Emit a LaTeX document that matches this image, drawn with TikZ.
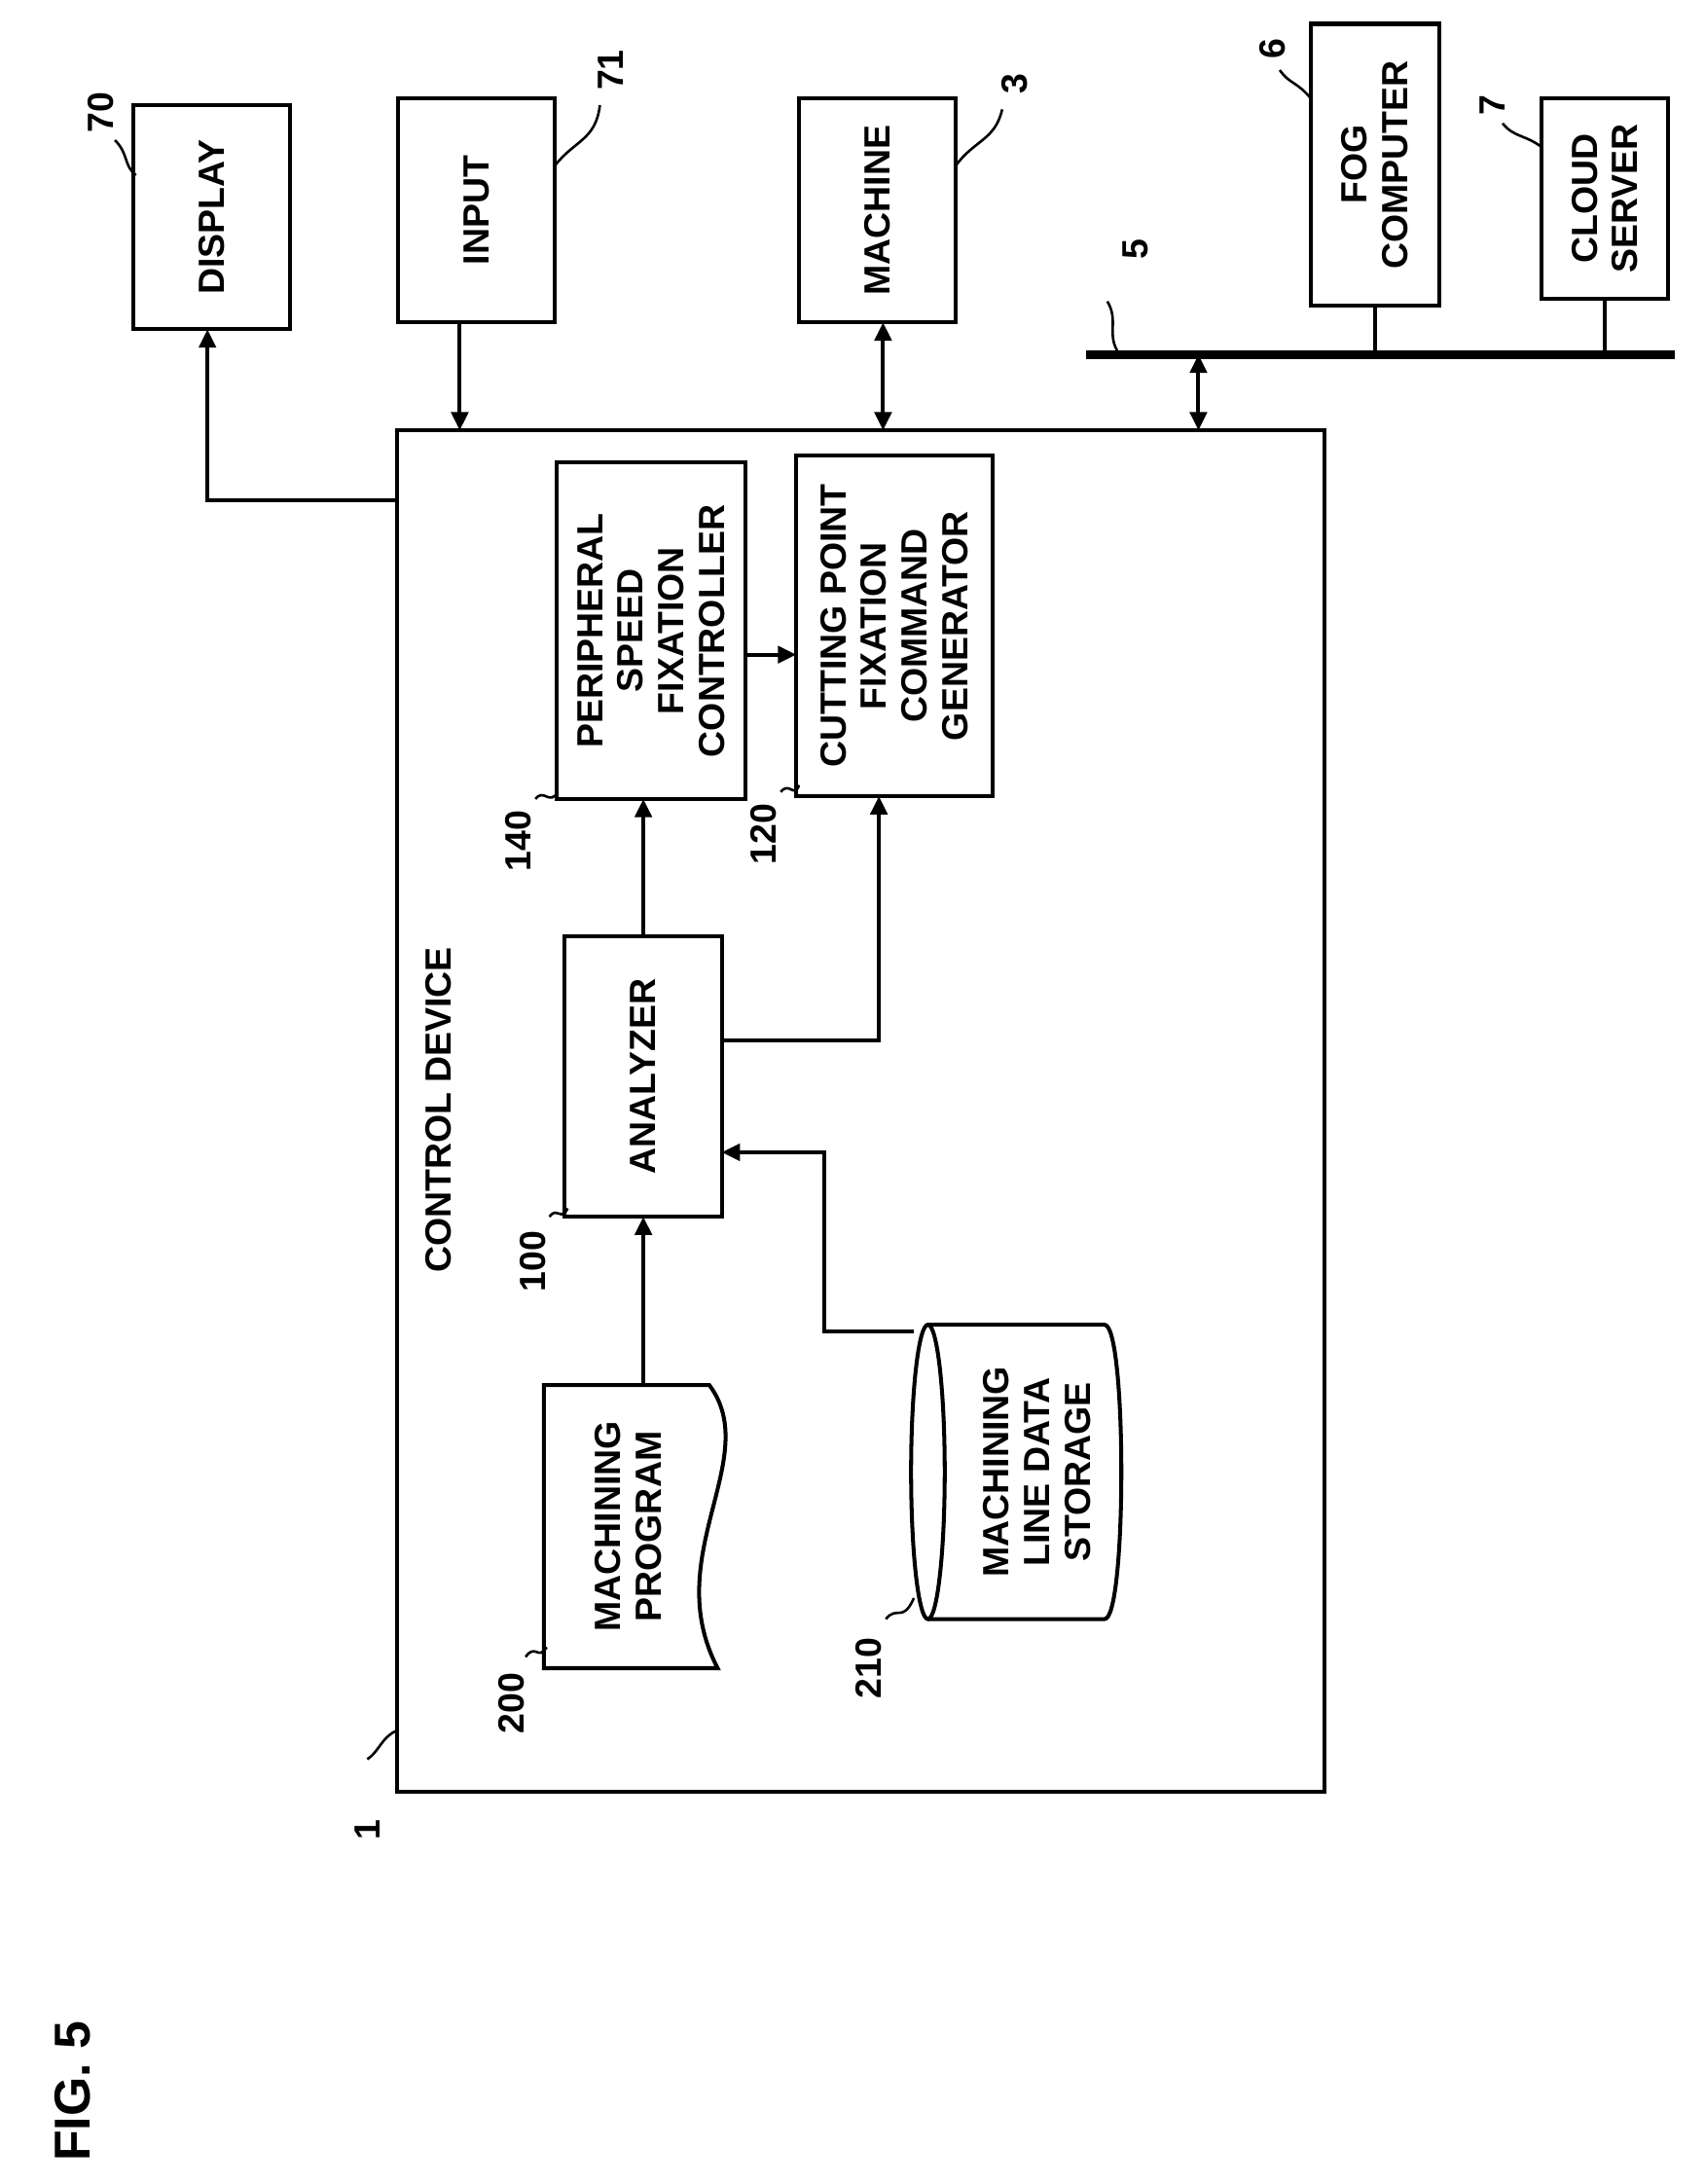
\documentclass[tikz,border=0pt]{standalone}
\usepackage{fontspec}
\setmainfont{Liberation Sans}
\usetikzlibrary{arrows.meta}
\begin{document}
\begin{tikzpicture}[x=1pt,y=-1pt,
  box/.style={draw,line width=2.8pt},
  ln/.style={line width=2.8pt},
  ar/.style={ln,-{Triangle[length=13pt,width=12pt]}},
  dar/.style={ln,{Triangle[length=13pt,width=12pt]}-{Triangle[length=13pt,width=12pt]}},
  lbl/.style={font=\fontsize{26}{29}\selectfont\bfseries,rotate=90,align=center},
  num/.style={font=\fontsize{26}{29}\selectfont\bfseries,rotate=90},
  hook/.style={line width=1.8pt}]
\useasboundingbox (0,0) rectangle (1216,1558);
% boxes
\node[box,minimum width=112pt,minimum height=160pt] (disp) at (151,155) {};
\node[lbl] at (disp) {DISPLAY};
\node[box,minimum width=112pt,minimum height=160pt] (inp) at (340,150) {};
\node[lbl] at (inp) {INPUT};
\node[box,minimum width=112pt,minimum height=160pt] (mach) at (626,150) {};
\node[lbl] at (mach) {MACHINE};
\node[box,minimum width=92pt,minimum height=201pt] (fog) at (981,117.5) {};
\node[lbl] at (fog) {FOG\\COMPUTER};
\node[box,minimum width=90pt,minimum height=143pt] (cloud) at (1145,141.5) {};
\node[lbl] at (cloud) {CLOUD\\SERVER};
% bus
\coordinate (busL) at (775,253); \coordinate (busR) at (1195,253);
\draw[line width=6pt] (busL) -- (busR);
\draw[ln] (fog.south) -- (981,253);
\draw[ln] (cloud.south) -- (1145,253);
% control device
\node[box,minimum width=662pt,minimum height=971pt] (cd) at (614,792.5) {};
\node[lbl,anchor=east] at (313,672) {CONTROL DEVICE};
\draw[dar] (855,253) -- (855,307);
\draw[ar] (328,230) -- (328,307);
\draw[dar] (630,230) -- (630,307);
\coordinate (dispc) at (283,357);
\draw[ar] (dispc) -- (148,357) -- (148,235);
% inner boxes
\node[box,minimum width=135pt,minimum height=240pt] (per) at (464.5,450) {};
\node[lbl] at (per) {PERIPHERAL\\SPEED\\FIXATION\\CONTROLLER};
\node[box,minimum width=140pt,minimum height=243pt] (cut) at (638,446.5) {};
\node[lbl] at (cut) {CUTTING POINT\\FIXATION\\COMMAND\\GENERATOR};
\draw[ar] (532,467) -- (568,467);
\node[box,minimum width=112pt,minimum height=200pt] (ana) at (459,768) {};
\node[lbl] at (ana) {ANALYZER};
\draw[ar] (459,668) -- (459,570);
\draw[ar] (515,742) -- (627,742) -- (627,568);
% program document
\draw[box] (388,988) -- (506,988) .. controls (545,1040) and (470,1110) .. (512,1190) -- (388,1190) -- cycle;
\node[lbl] (prog) at (448,1089) {MACHINING\\PROGRAM};
\draw[ar] (459,988) -- (459,868);
% cylinder
\draw[box] (662,1050) ellipse [x radius=12, y radius=105];
\draw[box] (662,945) -- (788,945) .. controls (804,945) and (804,1155) .. (788,1155) -- (662,1155);
\node[lbl] (stor) at (740,1050) {MACHINING\\LINE DATA\\STORAGE};
\draw[ar] (652,950) -- (588,950) -- (588,822) -- (515,822);
% numbers
\node[num] at (72,80) {70};
\draw[hook] (82,100) .. controls (92,110) and (88,118) .. (97,125);
\node[num] at (436,50) {71};
\draw[hook] (428,75) .. controls (425,100) and (410,100) .. (396,118);
\node[num] at (724,60) {3};
\draw[hook] (715,78) .. controls (710,100) and (695,100) .. (682,118);
\node[num] at (908,35) {6};
\draw[hook] (913,50) .. controls (920,60) and (925,58) .. (935,70);
\node[num] at (1065,75) {7};
\draw[hook] (1072,88) .. controls (1080,98) and (1088,96) .. (1100,105);
\node[num] at (810,178) {5};
\draw[hook] (790,215) .. controls (798,228) and (790,238) .. (797,250);
\node[num] at (262,1305) {1};
\draw[hook] (262,1255) .. controls (270,1250) and (272,1240) .. (282,1235);
\node[num] at (370,600) {140};
\draw[hook] (382,570) .. controls (388,562) and (392,575) .. (398,565);
\node[num] at (545,595) {120};
\draw[hook] (557,565) .. controls (563,557) and (567,570) .. (570,560);
\node[num] at (380,900) {100};
\draw[hook] (392,868) .. controls (398,860) and (400,872) .. (405,862);
\node[num] at (365,1215) {200};
\draw[hook] (375,1182) .. controls (382,1172) and (384,1185) .. (390,1175);
\node[num] at (620,1190) {210};
\draw[hook] (632,1155) .. controls (640,1145) and (644,1158) .. (652,1140);
\node[font=\fontsize{36}{40}\selectfont\bfseries,rotate=90] at (52,1492) {FIG. 5};
\end{tikzpicture}
\end{document}
